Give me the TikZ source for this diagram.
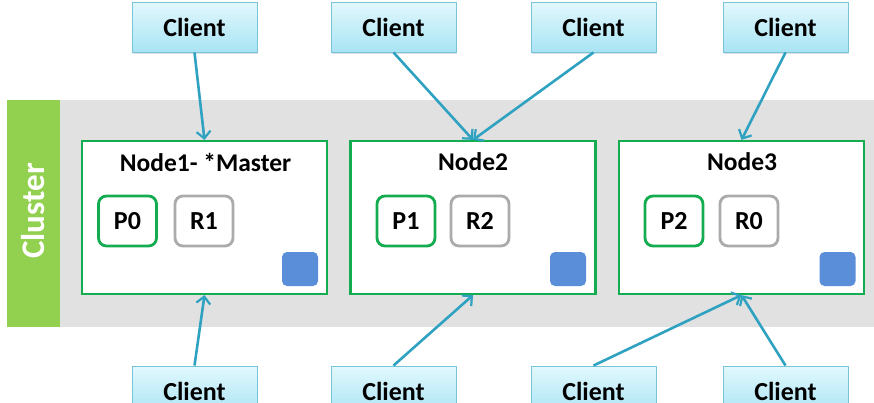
\documentclass[tikz,border=0pt]{standalone}
\usepackage{fontspec}
\setmainfont{Carlito}
\usetikzlibrary{arrows.meta,shadows}
\definecolor{bandgray}{HTML}{E1E1E1}
\definecolor{barGreen}{HTML}{92D050}
\definecolor{boxGreen}{HTML}{14AC50}
\definecolor{repGray}{HTML}{ABABAB}
\definecolor{blueSq}{HTML}{5A8ED8}
\definecolor{arrowTeal}{HTML}{2FA2C2}
\definecolor{cliTop}{HTML}{E2F8FD}
\definecolor{cliBot}{HTML}{A8E4F4}
\definecolor{cliEdge}{HTML}{78C4DA}
\tikzset{
  clientbox/.style={draw=cliEdge, line width=0.9pt, top color=cliTop, bottom color=cliBot,
    minimum width=125pt, minimum height=50pt, inner sep=0pt,
    font=\fontsize{26}{28}\selectfont\bfseries,
    drop shadow={shadow xshift=1.2pt, shadow yshift=-1.5pt, opacity=0.25}},
  esnode/.style={draw=boxGreen, line width=2.2pt, fill=white, minimum width=245pt, minimum height=153pt, inner sep=0pt},
  nodetitle/.style={font=\fontsize{25.5}{28}\selectfont\bfseries, inner sep=0pt},
  primbox/.style={draw=boxGreen, line width=2.8pt, fill=white, rounded corners=8pt,
    minimum width=58pt, minimum height=50pt, inner sep=0pt, font=\fontsize{26}{28}\selectfont\bfseries},
  repbox/.style={primbox, draw=repGray},
  bluesq/.style={fill=blueSq, rounded corners=5pt, minimum width=36pt, minimum height=34pt, inner sep=0pt},
  conn/.style={draw=arrowTeal, line width=2.6pt, -{Straight Barb[length=7pt,width=14pt,line width=2.2pt]}}
}
\begin{document}
\begin{tikzpicture}[x=1pt,y=-1pt]
\useasboundingbox (0,0) rectangle (874,402);
% background band and cluster bar
\fill[bandgray] (60,100) rectangle (874,327);
\fill[barGreen] (7,100) rectangle (60,327);
\node[rotate=90, text=white, font=\fontsize{33}{36}\selectfont\bfseries, inner sep=0pt] (clusterlabel) at (33.5,211) {Cluster};

% ES nodes
\node[esnode] (n1) at (204.5,217.5) {};
\node[esnode] (n2) at (473,217.5) {};
\node[esnode] (n3) at (741.5,217.5) {};
\node[nodetitle] (t1) at (205.5,162) {Node1- *Master};
\node[nodetitle] (t2) at (473,162) {Node2};
\node[nodetitle] (t3) at (742,162) {Node3};

\node[primbox] (p0) at (127.5,221) {P0};
\node[repbox] (r1) at (204,221) {R1};
\node[primbox] (p1) at (406,221) {P1};
\node[repbox] (r2) at (480,221) {R2};
\node[primbox] (p2) at (674,221) {P2};
\node[repbox] (r0) at (749,221) {R0};

\node[bluesq] (s1) at (300,269) {};
\node[bluesq] (s2) at (568,269) {};
\node[bluesq] (s3) at (837.5,269) {};

% clients
\node[clientbox] (c1) at (194.5,27) {Client};
\node[clientbox] (c2) at (393.5,27) {Client};
\node[clientbox] (c3) at (593.5,27) {Client};
\node[clientbox] (c4) at (785.5,27) {Client};
\node[clientbox] (b1) at (194.5,391) {Client};
\node[clientbox] (b2) at (393.5,391) {Client};
\node[clientbox] (b3) at (593.5,391) {Client};
\node[clientbox] (b4) at (785.5,391) {Client};

% connectors
\draw[conn] (c1.south) -- (n1.north);
\draw[conn] (c2.south) -- (n2.north);
\draw[conn] (c3.south) -- (n2.north);
\draw[conn] (c4.south) -- (n3.north);
\draw[conn] (b1.north) -- (n1.south);
\draw[conn] (b2.north) -- (n2.south);
\draw[conn] (b3.north) -- (n3.south);
\draw[conn] (b4.north) -- (n3.south);
\end{tikzpicture}
\end{document}
